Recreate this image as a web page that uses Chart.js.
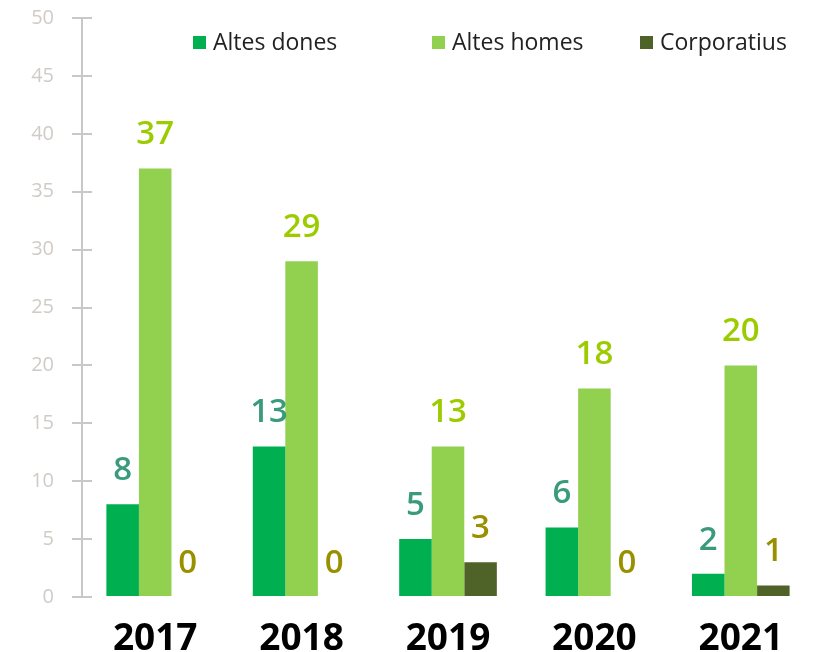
<!DOCTYPE html>
<html lang="ca">
<head>
  <meta charset="UTF-8" />
  <title>Altes per any</title>
  <script src="https://cdn.jsdelivr.net/npm/chart.js"></script>
<style>
  body {
    margin: 0;
    background-color: white;
  }
  #wrap {
    width: 815px;
    height: 652px;
    position: relative;
  }
</style>
</head>
<body>
  <div id="wrap">
    <canvas id="chart"></canvas>
  </div>

  <script>
    const years = ["2017", "2018", "2019", "2020", "2021"];
    const altesDones = [8, 13, 5, 6, 2];
    const altesHomes = [37, 29, 13, 18, 20];
    const corporatius = [0, 0, 3, 0, 1];
    const yTicks = [0, 5, 10, 15, 20, 25, 30, 35, 40, 45, 50];

    const barColors = ["#00b050", "#92d050", "#4f6228"];
    const labelColors = ["#3a9a7c", "#9ccc00", "#999000"];
    const legendOffsets = [111, 350, 558];

    // etiquetes de valor sobre les barres
    const valueLabels = {
      id: "valueLabels",
      afterDatasetsDraw(chart) {
        const ctx = chart.ctx;
        ctx.save();
        ctx.font = "600 33px 'Open Sans'";
        ctx.textAlign = "center";
        ctx.textBaseline = "bottom";
        chart.data.datasets.forEach((ds, i) => {
          const meta = chart.getDatasetMeta(i);
          ctx.fillStyle = labelColors[i];
          meta.data.forEach((bar, j) => {
            ctx.fillText(ds.data[j], bar.x, bar.y - 17);
          });
        });
        ctx.restore();
      }
    };

    // marques curtes a la dreta de l'eix Y
    const innerTicks = {
      id: "innerTicks",
      afterDraw(chart) {
        const ctx = chart.ctx;
        const y = chart.scales.y;
        ctx.save();
        ctx.strokeStyle = "#c8c8c8";
        ctx.lineWidth = 2;
        yTicks.forEach(v => {
          const py = Math.round(y.getPixelForValue(v));
          ctx.beginPath();
          ctx.moveTo(y.right, py);
          ctx.lineTo(y.right + 10, py);
          ctx.stroke();
        });
        ctx.restore();
      }
    };

    // llegenda dins de l'àrea del gràfic
    const topLegend = {
      id: "topLegend",
      afterDraw(chart) {
        const ctx = chart.ctx;
        const area = chart.chartArea;
        ctx.save();
        ctx.font = "23px 'Open Sans'";
        ctx.textBaseline = "middle";
        ctx.textAlign = "left";
        const y = area.top + 25;
        chart.data.datasets.forEach((ds, i) => {
          const x = area.left + legendOffsets[i];
          ctx.fillStyle = barColors[i];
          ctx.fillRect(x, y - 7, 13, 13);
          ctx.fillStyle = "#222";
          ctx.fillText(ds.label, x + 20, y);
        });
        ctx.restore();
      }
    };

    new Chart(document.getElementById("chart"), {
      type: "bar",
      data: {
        labels: years,
        datasets: [
          { label: "Altes dones", data: altesDones, backgroundColor: barColors[0] },
          { label: "Altes homes", data: altesHomes, backgroundColor: barColors[1] },
          { label: "Corporatius", data: corporatius, backgroundColor: barColors[2] }
        ]
      },
      options: {
        responsive: true,
        maintainAspectRatio: false,
        animation: false,
        layout: { padding: { top: 18, right: 1, left: 0, bottom: 0 } },
        datasets: {
          bar: { categoryPercentage: 0.667, barPercentage: 1.0 }
        },
        plugins: {
          legend: { display: false },
          tooltip: { enabled: false }
        },
        scales: {
          x: {
            grid: { display: false },
            border: { display: false },
            ticks: {
              color: "#000",
              padding: 12,
              font: { family: "'Open Sans'", size: 37, weight: "bold" }
            },
            afterFit(scale) {
              scale.height = 55;
              scale.paddingTop = 0;
              scale.paddingBottom = 0;
            }
          },
          y: {
            min: 0,
            max: 50,
            afterBuildTicks(scale) {
              scale.ticks = yTicks.map(v => ({ value: v }));
            },
            afterFit(scale) {
              scale.width = 82;
              scale.paddingTop = 0;
              scale.paddingBottom = 0;
            },
            border: { display: true, color: "#c8c8c8", width: 2 },
            grid: {
              drawOnChartArea: false,
              drawTicks: true,
              tickLength: 10,
              color: "#c8c8c8",
              lineWidth: 2
            },
            ticks: {
              color: "#d0cbc6",
              padding: 18,
              font: { family: "'Open Sans'", size: 20 }
            }
          }
        }
      },
      plugins: [valueLabels, innerTicks, topLegend]
    });
  </script>
</body>
</html>
